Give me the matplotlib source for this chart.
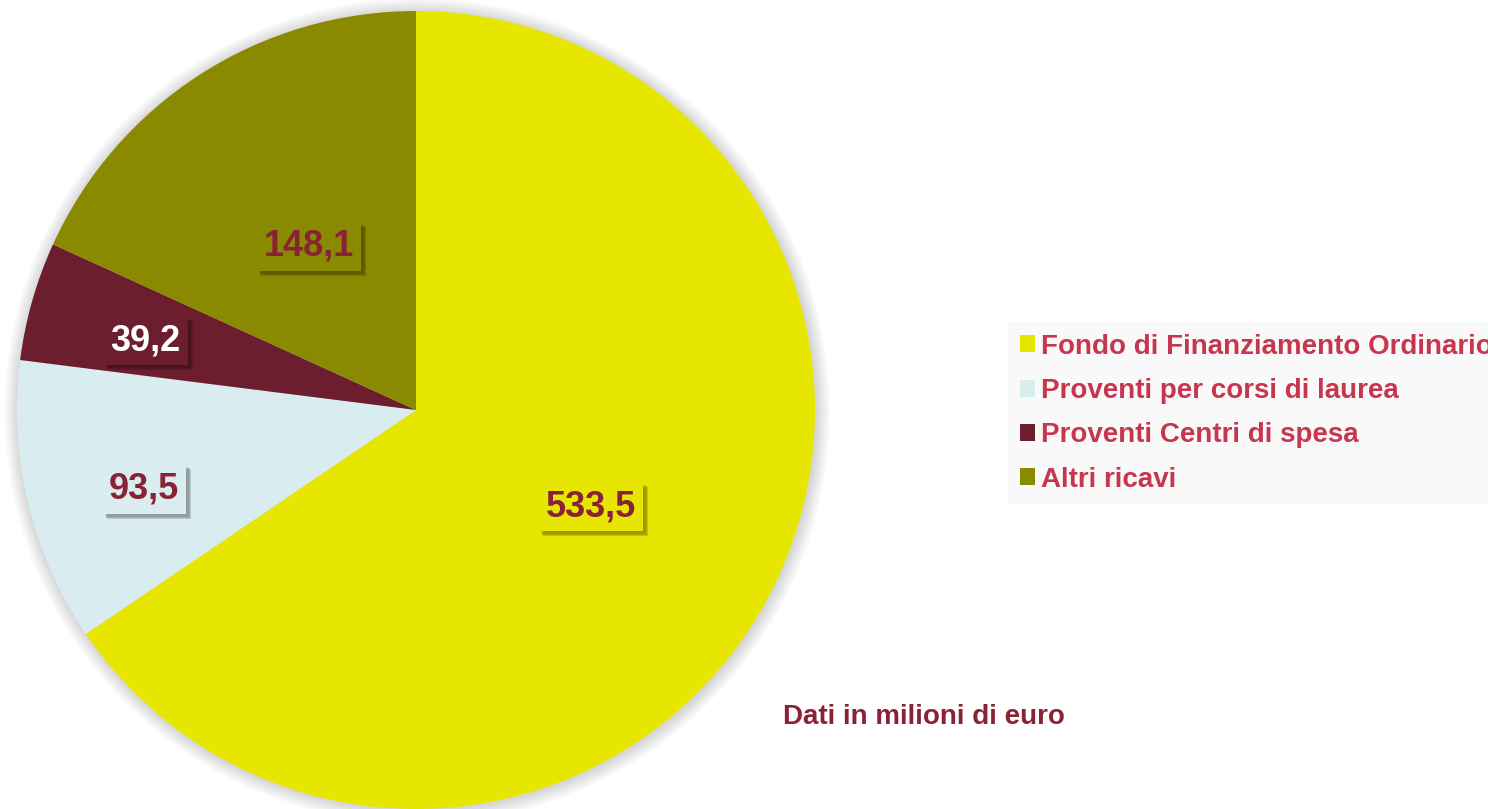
import numpy as np
import matplotlib
matplotlib.use('Agg')
import matplotlib.pyplot as plt
from matplotlib.patches import Circle
from matplotlib.transforms import offset_copy

plt.rcParams['font.family'] = ['Liberation Sans', 'DejaVu Sans']
plt.rcParams['font.weight'] = 'bold'

# dati (milioni di euro)
categorie = ['Fondo di Finanziamento Ordinario', 'Proventi per corsi di laurea',
             'Proventi Centri di spesa', 'Altri ricavi']
valori = [533.5, 93.5, 39.2, 148.1]
etichette = ['533,5', '93,5', '39,2', '148,1']
colori = ['#e6e600', '#d9edf0', '#6d1e2e', '#8a8a00']
colori_testo = ['#8a2236', '#8a2236', '#ffffff', '#8a2236']
# posizione etichette: distanza dal centro e scarto angolare (gradi)
dist_etichette = [0.50, 0.71, 0.70, 0.49]
scarto_ang = [-1.0, 2.7, 1.5, 0.5]

W, H = 1488, 809
fig = plt.figure(figsize=(W / 100, H / 100), dpi=100)
fig.patch.set_facecolor('white')

# asse della torta: centro (416, 410) px, raggio ~399 px
cx, cy, R = 416, H - 410, 399
ax = fig.add_axes([(cx - R) / W, (cy - R) / H, 2 * R / W, 2 * R / H])
ax.axis('off')

# alone d'ombra attorno alla torta
for k in range(10):
    ax.add_patch(Circle((0.003, -0.003), 1.0 + 0.0035 * (k + 1), color='#000000',
                        alpha=0.014, lw=0, zorder=0, clip_on=False))

wedges, _ = ax.pie(valori, colors=colori, startangle=90, counterclock=False,
                   radius=1.0, wedgeprops=dict(linewidth=0))
ax.set_xlim(-1, 1)
ax.set_ylim(-1, 1)
ax.set_aspect('equal')

for w, lab, ct, d, da in zip(wedges, etichette, colori_testo, dist_etichette, scarto_ang):
    ang = np.deg2rad((w.theta1 + w.theta2) / 2 + da)
    x, y = d * np.cos(ang), d * np.sin(ang)
    # ombra sfumata del riquadro
    for k, a in enumerate([0.10, 0.12, 0.15]):
        sh = offset_copy(ax.transData, fig=fig, x=3 + k, y=-3 - k, units='dots')
        ax.text(x, y, lab, transform=sh, ha='center', va='center', fontsize=26,
                color=(0, 0, 0, 0), zorder=3,
                bbox=dict(boxstyle='square,pad=0.2', fc='black', ec='none', alpha=a))
    ax.text(x, y, lab, ha='center', va='center', fontsize=26, color=ct, zorder=4,
            fontweight='bold',
            bbox=dict(boxstyle='square,pad=0.2', fc=w.get_facecolor(), ec='none'))

leg = fig.legend(wedges, categorie, loc='upper left',
                 bbox_to_anchor=(1008 / W, 1 - 322 / H),
                 prop=dict(family=['Liberation Sans', 'DejaVu Sans'], weight='bold', size=20),
                 frameon=True, fancybox=False, facecolor='#f9f9f9', edgecolor='none',
                 framealpha=1, handlelength=0.55, handleheight=0.55,
                 handletextpad=0.22, borderpad=0.42, labelspacing=0.66,
                 borderaxespad=0)
for t in leg.get_texts():
    t.set_color('#c8364e')

fig.text(783 / W, 1 - 717 / H, 'Dati in milioni di euro', fontsize=20,
         fontweight='bold', color='#8a2236', ha='left', va='center')

fig.savefig('out.png', dpi=100)
